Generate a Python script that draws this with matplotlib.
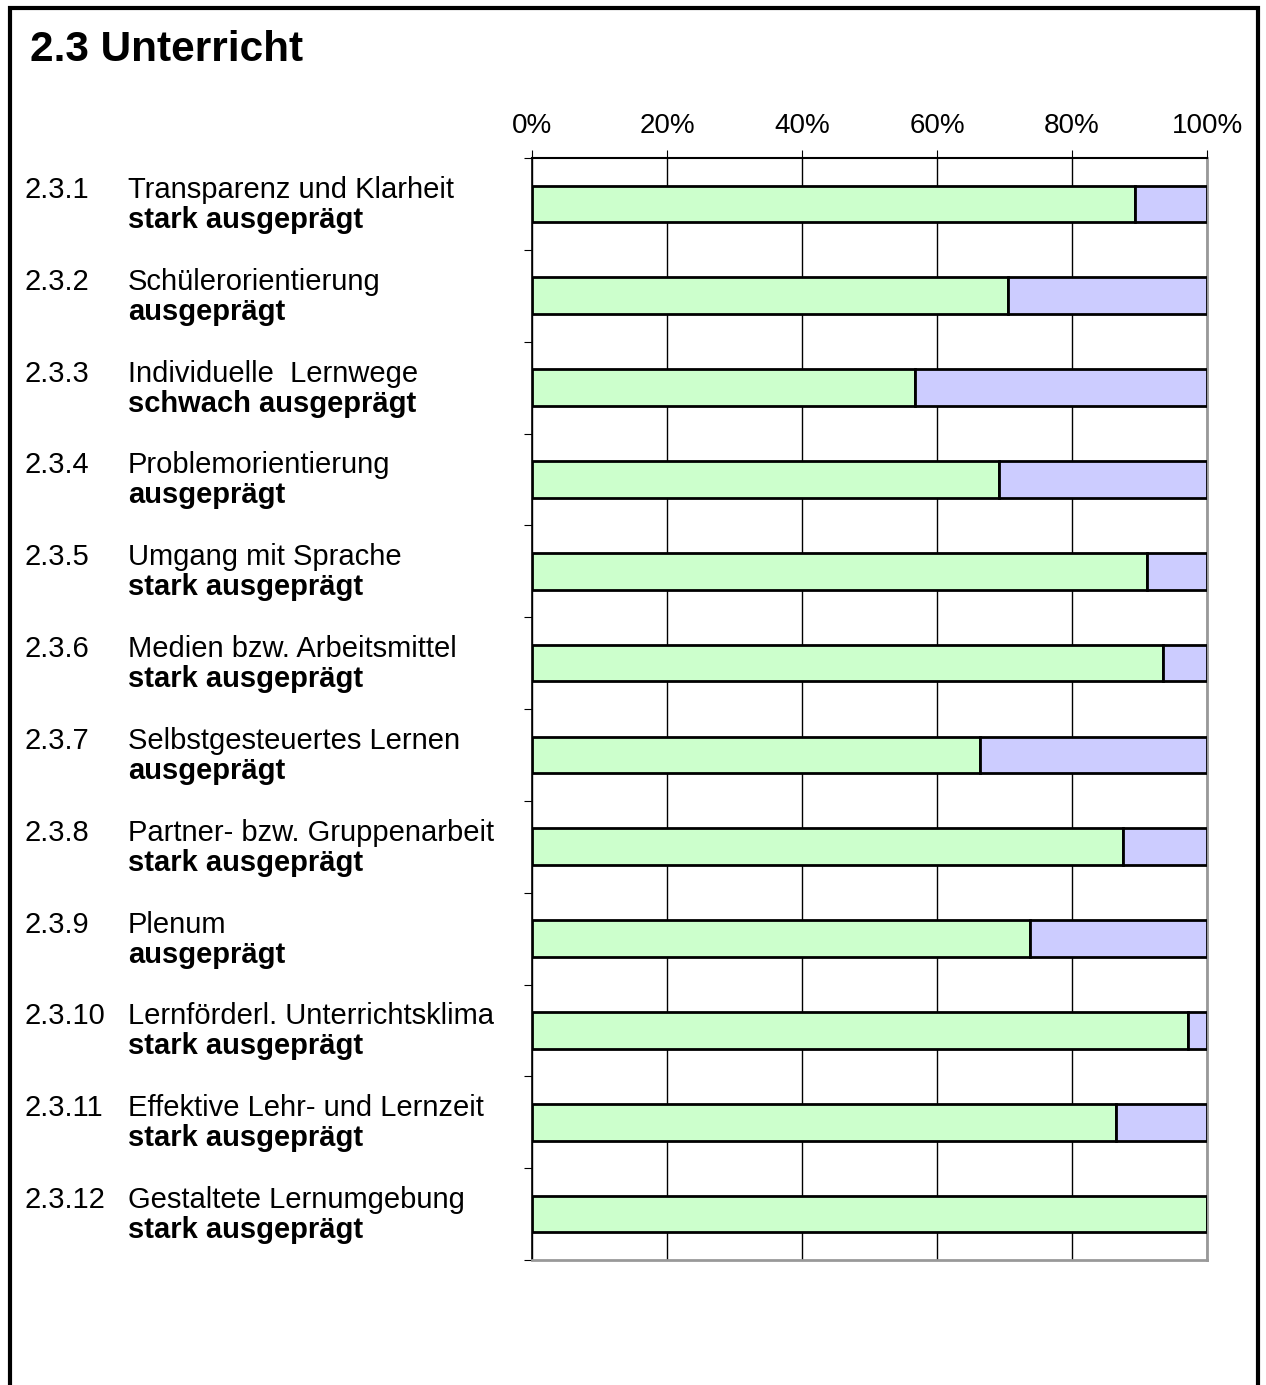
import matplotlib
matplotlib.use("Agg")
import matplotlib.pyplot as plt
from matplotlib.patches import Rectangle
from matplotlib.transforms import blended_transform_factory, offset_copy

plt.rcParams['font.family'] = ['Liberation Sans', 'DejaVu Sans']

# data
numbers = ["2.3.1", "2.3.2", "2.3.3", "2.3.4", "2.3.5", "2.3.6",
           "2.3.7", "2.3.8", "2.3.9", "2.3.10", "2.3.11", "2.3.12"]
topics = ["Transparenz und Klarheit", "Schülerorientierung", "Individuelle  Lernwege",
          "Problemorientierung", "Umgang mit Sprache", "Medien bzw. Arbeitsmittel",
          "Selbstgesteuertes Lernen", "Partner- bzw. Gruppenarbeit", "Plenum",
          "Lernförderl. Unterrichtsklima", "Effektive Lehr- und Lernzeit",
          "Gestaltete Lernumgebung"]
ratings = ["stark ausgeprägt", "ausgeprägt", "schwach ausgeprägt", "ausgeprägt",
           "stark ausgeprägt", "stark ausgeprägt", "ausgeprägt", "stark ausgeprägt",
           "ausgeprägt", "stark ausgeprägt", "stark ausgeprägt", "stark ausgeprägt"]
green = [89.3, 70.5, 56.7, 69.2, 91.1, 93.5, 66.4, 87.6, 73.8, 97.2, 86.5, 100.0]
blue = [10.7, 29.5, 43.3, 30.8, 8.9, 6.5, 33.6, 12.4, 26.2, 2.8, 13.5, 0.0]
xticks = [0, 20, 40, 60, 80, 100]

W, H = 1266, 1385
fig = plt.figure(figsize=(W / 100, H / 100), dpi=100)
ax = fig.add_axes([532 / W, 1 - 1260 / H, (1207 - 532) / W, (1260 - 158) / H])

pos = list(range(len(green)))
ax.barh(pos, green, height=0.4, color='#CCFFCC', edgecolor='black', linewidth=2, zorder=3)
ax.barh(pos, blue, left=green, height=0.4, color='#CCCCFF', edgecolor='black', linewidth=2, zorder=3)

ax.set_xlim(0, 100)
ax.set_ylim(len(green) - 0.5, -0.5)
ax.xaxis.tick_top()
ax.set_xticks(xticks)
ax.set_xticklabels([f"{t}%" for t in xticks], fontsize=20)
ax.tick_params(axis='x', direction='out', length=6, pad=8, color='black')
ax.set_yticks([p - 0.5 for p in pos] + [len(pos) - 0.5])
ax.set_yticklabels([])
ax.tick_params(axis='y', direction='out', length=6, color='black')
ax.grid(axis='x', color='black', linewidth=1, zorder=0)

ax.spines['left'].set_color('black')
ax.spines['left'].set_linewidth(1.2)
ax.spines['top'].set_color('black')
ax.spines['top'].set_linewidth(1.5)
for s in ['right', 'bottom']:
    ax.spines[s].set_color('#999999')
    ax.spines[s].set_linewidth(2)

# category labels on the left
trans = blended_transform_factory(fig.transFigure, ax.transData)
up = offset_copy(trans, fig=fig, y=14, units='dots')
down = offset_copy(trans, fig=fig, y=-16, units='dots')
for p, num, topic, rating in zip(pos, numbers, topics, ratings):
    ax.text(25 / W, p, num, transform=up, fontsize=21, va='center', ha='left')
    ax.text(128 / W, p, topic, transform=up, fontsize=21, va='center', ha='left')
    ax.text(128 / W, p, rating, transform=down, fontsize=21, fontweight='bold',
            va='center', ha='left')

fig.text(30 / W, 1 - 50 / H, "2.3 Unterricht", fontsize=30.5, fontweight='bold',
         va='center', ha='left')

fig.add_artist(Rectangle((10 / W, -0.02), (1258 - 10) / W, (1.02 - 8 / H),
                         transform=fig.transFigure, fill=False, edgecolor='black',
                         linewidth=3))

fig.savefig("out.png", dpi=100)
